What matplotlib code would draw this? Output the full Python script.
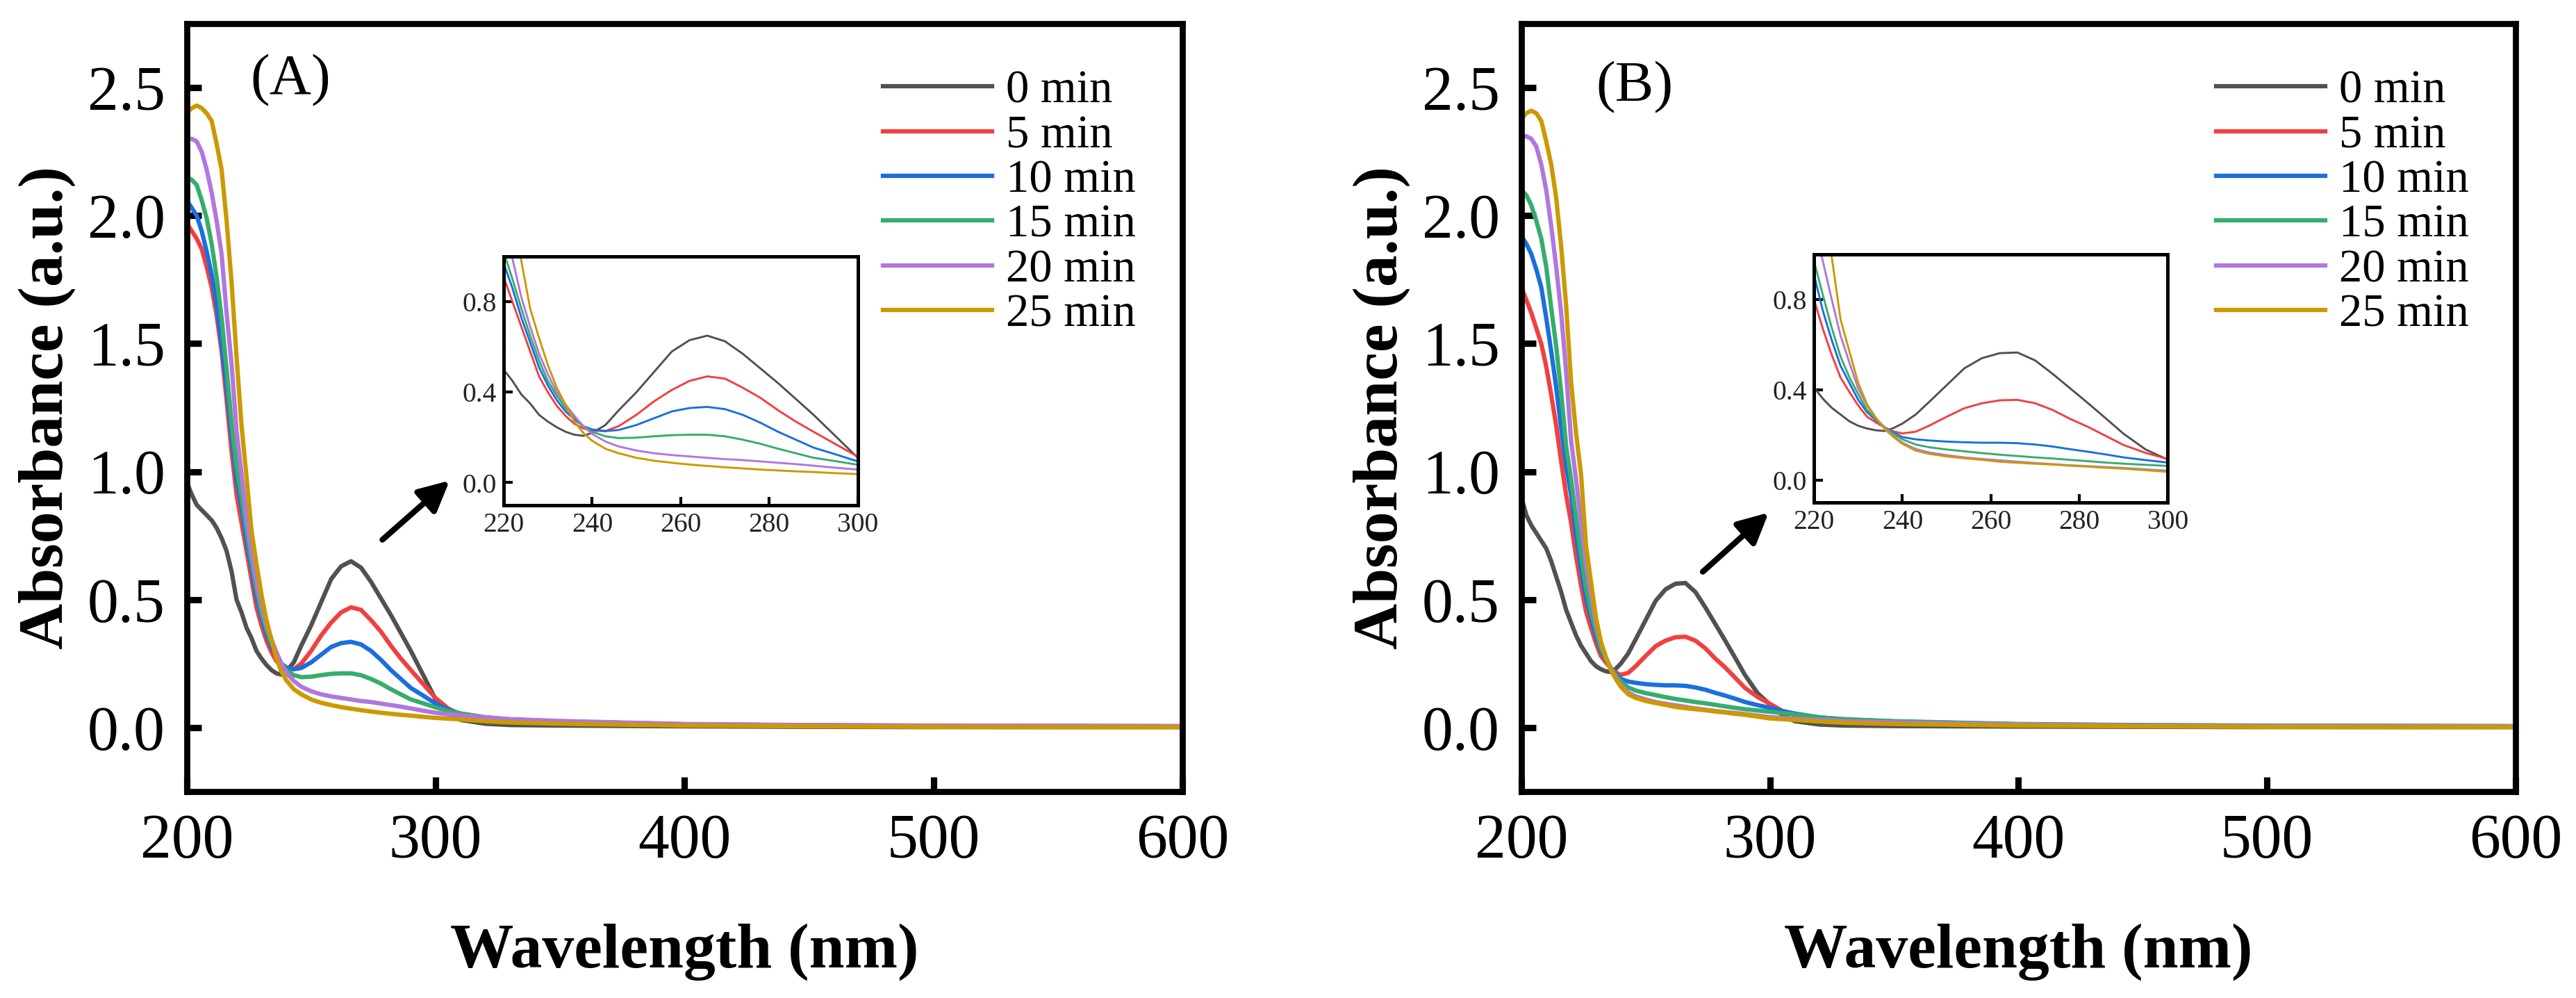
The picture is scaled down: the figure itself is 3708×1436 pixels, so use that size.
import matplotlib
matplotlib.use('Agg')
import matplotlib.pyplot as plt
from matplotlib.ticker import FormatStrFormatter

plt.rcParams['font.family'] = ['Liberation Serif', 'DejaVu Serif']

# wavelength grid (nm) shared by every spectrum
wavelength = [200, 202, 204, 206, 208, 210, 212, 214, 216, 218, 220, 222, 224, 226,
              228, 230, 232, 234, 236, 238, 240, 243, 246, 250, 254, 258, 262, 266,
              270, 274, 278, 282, 286, 290, 295, 300, 305, 310, 320, 330, 350, 400,
              450, 500, 550, 600]

labels = ['0 min', '5 min', '10 min', '15 min', '20 min', '25 min']
colors = ['#515151', '#F14040', '#1A6FDF', '#37AD6B', '#B177DE', '#CC9900']

# panel (A)
a_0min = [0.96, 0.91, 0.87, 0.85, 0.83, 0.81, 0.78, 0.74, 0.69, 0.61, 0.50, 0.45, 0.39, 0.35,
          0.30, 0.27, 0.245, 0.225, 0.212, 0.207, 0.22, 0.255, 0.32, 0.40, 0.49, 0.58, 0.63, 0.65,
          0.625, 0.57, 0.505, 0.44, 0.37, 0.30, 0.205, 0.11, 0.06, 0.03, 0.015, 0.01, 0.008, 0.005,
          0.003, 0.002, 0.002, 0.002]
a_5min = [1.97, 1.94, 1.91, 1.87, 1.80, 1.72, 1.61, 1.47, 1.28, 1.08, 0.91, 0.80, 0.69, 0.58,
          0.47, 0.40, 0.34, 0.295, 0.26, 0.24, 0.23, 0.228, 0.25, 0.30, 0.36, 0.41, 0.45, 0.47,
          0.46, 0.42, 0.375, 0.32, 0.27, 0.225, 0.17, 0.115, 0.075, 0.05, 0.035, 0.03, 0.022, 0.012,
          0.008, 0.006, 0.005, 0.005]
a_10min = [2.06, 2.03, 2.00, 1.94, 1.86, 1.77, 1.65, 1.50, 1.33, 1.14, 0.97, 0.86, 0.73, 0.62,
           0.51, 0.43, 0.365, 0.315, 0.28, 0.25, 0.235, 0.228, 0.233, 0.255, 0.285, 0.315, 0.33, 0.335,
           0.325, 0.30, 0.265, 0.225, 0.19, 0.155, 0.125, 0.094, 0.07, 0.055, 0.04, 0.032, 0.024, 0.013,
           0.009, 0.007, 0.006, 0.005]
a_15min = [2.15, 2.14, 2.12, 2.06, 1.99, 1.89, 1.76, 1.60, 1.40, 1.19, 1.02, 0.90, 0.77, 0.65,
           0.54, 0.45, 0.385, 0.33, 0.29, 0.25, 0.225, 0.205, 0.197, 0.199, 0.205, 0.21, 0.212, 0.212,
           0.205, 0.19, 0.172, 0.15, 0.13, 0.11, 0.095, 0.079, 0.065, 0.055, 0.04, 0.032, 0.024, 0.013,
           0.009, 0.007, 0.006, 0.005]
a_20min = [2.30, 2.30, 2.29, 2.25, 2.18, 2.09, 1.98, 1.85, 1.62, 1.42, 1.16, 0.99, 0.82, 0.69,
           0.57, 0.48, 0.40, 0.345, 0.295, 0.25, 0.215, 0.182, 0.16, 0.142, 0.13, 0.122, 0.116, 0.11,
           0.104, 0.10, 0.094, 0.088, 0.082, 0.075, 0.066, 0.058, 0.052, 0.048, 0.04, 0.033, 0.026, 0.014,
           0.01, 0.008, 0.007, 0.006]
a_25min = [2.40, 2.42, 2.43, 2.42, 2.40, 2.37, 2.28, 2.18, 1.98, 1.74, 1.45, 1.18, 0.98, 0.77,
           0.64, 0.52, 0.42, 0.345, 0.27, 0.22, 0.185, 0.15, 0.13, 0.11, 0.097, 0.088, 0.08, 0.074,
           0.068, 0.063, 0.058, 0.054, 0.05, 0.047, 0.042, 0.038, 0.035, 0.032, 0.025, 0.02, 0.015, 0.008,
           0.005, 0.003, 0.002, 0.002]

# panel (B)
b_0min = [0.90, 0.83, 0.79, 0.76, 0.73, 0.70, 0.65, 0.59, 0.53, 0.46, 0.41, 0.36, 0.32, 0.29,
          0.26, 0.24, 0.228, 0.22, 0.217, 0.23, 0.25, 0.29, 0.345, 0.42, 0.495, 0.54, 0.562, 0.565,
          0.53, 0.47, 0.405, 0.34, 0.273, 0.205, 0.135, 0.09, 0.05, 0.025, 0.012, 0.008, 0.006, 0.004,
          0.003, 0.002, 0.002, 0.002]
b_5min = [1.72, 1.67, 1.62, 1.56, 1.50, 1.41, 1.30, 1.18, 1.04, 0.91, 0.80, 0.67, 0.555, 0.454,
          0.39, 0.33, 0.28, 0.255, 0.232, 0.215, 0.206, 0.214, 0.24, 0.28, 0.318, 0.34, 0.353, 0.355,
          0.34, 0.31, 0.27, 0.235, 0.195, 0.155, 0.12, 0.093, 0.065, 0.05, 0.035, 0.028, 0.02, 0.012,
          0.008, 0.006, 0.005, 0.005]
b_10min = [1.92, 1.89, 1.85, 1.79, 1.72, 1.60, 1.47, 1.33, 1.17, 1.02, 0.91, 0.75, 0.62, 0.506,
           0.43, 0.355, 0.30, 0.265, 0.232, 0.21, 0.19, 0.18, 0.175, 0.17, 0.167, 0.165, 0.165, 0.163,
           0.157, 0.148, 0.136, 0.125, 0.113, 0.10, 0.088, 0.077, 0.065, 0.055, 0.04, 0.032, 0.024, 0.013,
           0.009, 0.007, 0.006, 0.005]
b_15min = [2.10, 2.08, 2.04, 1.98, 1.91, 1.80, 1.64, 1.49, 1.31, 1.10, 0.97, 0.82, 0.675, 0.547,
           0.455, 0.38, 0.31, 0.27, 0.233, 0.205, 0.18, 0.157, 0.145, 0.135, 0.127, 0.119, 0.112, 0.106,
           0.10, 0.095, 0.089, 0.083, 0.077, 0.072, 0.067, 0.062, 0.057, 0.052, 0.04, 0.033, 0.025, 0.014,
           0.01, 0.008, 0.007, 0.006]
b_20min = [2.31, 2.31, 2.30, 2.27, 2.20, 2.10, 1.96, 1.80, 1.62, 1.39, 1.12, 0.97, 0.80, 0.64,
           0.52, 0.405, 0.33, 0.275, 0.23, 0.195, 0.165, 0.137, 0.122, 0.11, 0.10, 0.093, 0.087, 0.081,
           0.075, 0.07, 0.065, 0.061, 0.057, 0.053, 0.047, 0.041, 0.038, 0.035, 0.03, 0.025, 0.02, 0.012,
           0.008, 0.006, 0.005, 0.005]
b_25min = [2.38, 2.40, 2.41, 2.40, 2.37, 2.29, 2.20, 2.07, 1.88, 1.65, 1.35, 1.15, 0.99, 0.712,
           0.57, 0.43, 0.335, 0.275, 0.225, 0.19, 0.16, 0.13, 0.116, 0.104, 0.096, 0.089, 0.081, 0.076,
           0.072, 0.068, 0.063, 0.059, 0.054, 0.05, 0.043, 0.036, 0.033, 0.03, 0.024, 0.019, 0.014, 0.008,
           0.005, 0.003, 0.002, 0.002]

panels = [
    {'tag': '(A)', 'series': [a_0min, a_5min, a_10min, a_15min, a_20min, a_25min],
     'tag_xy': (0.104, 0.926), 'tail': (278.6, 0.734), 'head': (305.6, 0.965),
     'main': [0.0725, 0.2068, 0.3865, 0.7695], 'inset': [0.1955, 0.4937, 0.1375, 0.2493]},
    {'tag': '(B)', 'series': [b_0min, b_5min, b_10min, b_15min, b_20min, b_25min],
     'tag_xy': (0.114, 0.917), 'tail': (273.0, 0.609), 'head': (299.5, 0.84),
     'main': [0.5906, 0.2068, 0.3859, 0.7695], 'inset': [0.7042, 0.4965, 0.1373, 0.2486]},
]

fig = plt.figure(figsize=(12.36, 4.7867), dpi=300)

for p in panels:
    ax = fig.add_axes(p['main'])
    for y, lab, c in zip(p['series'], labels, colors):
        ax.plot(wavelength, y, color=c, lw=1.5, label=lab)
    ax.set_xlim(200, 600)
    ax.set_ylim(-0.25, 2.75)
    ax.set_xticks([200, 300, 400, 500, 600])
    ax.set_yticks([0, 0.5, 1.0, 1.5, 2.0, 2.5])
    ax.yaxis.set_major_formatter(FormatStrFormatter('%.1f'))
    ax.tick_params(direction='in', length=5, width=2.2, labelsize=21.5, pad=7.5)
    for s in ax.spines.values():
        s.set_linewidth(2.1)
    ax.set_xlabel('Wavelength (nm)', fontsize=22, fontweight='bold', labelpad=18)
    ax.set_ylabel('Absorbance (a.u.)', fontsize=22, fontweight='bold', labelpad=4)
    ax.text(p['tag_xy'][0], p['tag_xy'][1], p['tag'], transform=ax.transAxes,
            fontsize=20, ha='center', va='center')
    ax.legend(loc='upper right', frameon=False, fontsize=16, handlelength=2.36,
              handletextpad=0.3, labelspacing=0.05, borderaxespad=0.6)
    ax.annotate('', xy=p['head'], xytext=p['tail'],
                arrowprops=dict(arrowstyle='-|>', color='k', lw=2, mutation_scale=22,
                                shrinkA=0, shrinkB=0))

    ins = fig.add_axes(p['inset'])
    for y, c in zip(p['series'], colors):
        ins.plot(wavelength, y, color=c, lw=0.7)
    ins.set_xlim(220, 300)
    ins.set_ylim(-0.1, 1.0)
    ins.set_xticks([220, 240, 260, 280, 300])
    ins.set_yticks([0.0, 0.4, 0.8])
    ins.yaxis.set_major_formatter(FormatStrFormatter('%.1f'))
    ins.tick_params(direction='in', length=3, width=1, labelsize=9.5, pad=2.5,
                    labelcolor='#222222')
    for s in ins.spines.values():
        s.set_linewidth(1.2)

fig.savefig('out.png', dpi=300)
